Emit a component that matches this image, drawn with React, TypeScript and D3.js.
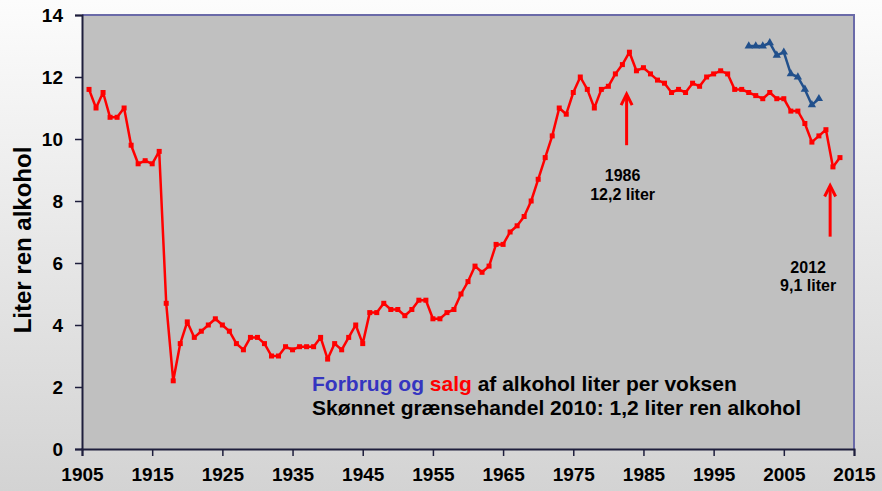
import { useEffect, useRef } from 'react';
import * as d3 from 'd3';

// Alkoholforbrug i Danmark, liter ren alkohol per voksen

const salgYears = d3.range(1906, 2014);
const salgValues = [
  11.6, 11.0, 11.5, 10.7, 10.7, 11.0, 9.8, 9.2, 9.3, 9.2, 9.6, 4.7, 2.2, 3.4, // 1906-1919
  4.1, 3.6, 3.8, 4.0, 4.2, 4.0, 3.8, 3.4, 3.2, 3.6, // 1920s
  3.6, 3.4, 3.0, 3.0, 3.3, 3.2, 3.3, 3.3, 3.3, 3.6, // 1930s
  2.9, 3.4, 3.2, 3.6, 4.0, 3.4, 4.4, 4.4, 4.7, 4.5, // 1940s
  4.5, 4.3, 4.5, 4.8, 4.8, 4.2, 4.2, 4.4, 4.5, 5.0, // 1950s
  5.4, 5.9, 5.7, 5.9, 6.6, 6.6, 7.0, 7.2, 7.5, 8.0, // 1960s
  8.7, 9.4, 10.1, 11.0, 10.8, 11.5, 12.0, 11.6, 11.0, 11.6, // 1970s
  11.7, 12.1, 12.4, 12.8, 12.2, 12.3, 12.1, 11.9, 11.8, 11.5, // 1980s
  11.6, 11.5, 11.8, 11.7, 12.0, 12.1, 12.2, 12.1, 11.6, 11.6, // 1990s
  11.5, 11.4, 11.3, 11.5, 11.3, 11.3, 10.9, 10.9, 10.5, 9.9, // 2000s
  10.1, 10.3, 9.1, 9.4 // 2010-2013
];

const forbrugYears = [2000, 2001, 2002, 2003, 2004, 2005, 2006, 2007, 2008, 2009, 2010];
const forbrugValues = [13.0, 13.0, 13.0, 13.1, 12.7, 12.8, 12.1, 12.0, 11.6, 11.1, 11.3];

const xTicks = [1905, 1915, 1925, 1935, 1945, 1955, 1965, 1975, 1985, 1995, 2005, 2015];
const yTicks = [0, 2, 4, 6, 8, 10, 12, 14];

// arrows: x year, tip value, tail value, label
const arrowYears = [1982.6, 2011.6];
const arrowTips = [11.45, 8.5];
const arrowTails = [9.8, 6.85];
const arrowLabels = [['1986', '12,2 liter'], ['2012', '9,1 liter']];
const arrowLabelShift = [-4, -22];

const FONT = '"Liberation Sans", Arial, Helvetica, sans-serif';

export default function App() {
  const ref = useRef<SVGSVGElement>(null);

  useEffect(() => {
    const svg = d3.select(ref.current);
    svg.selectAll('*').remove();

    const width = 882;
    const height = 491;
    const m = { left: 82, right: 854, top: 15, bottom: 449 };

    const x = d3.scaleLinear().domain([1905, 2015]).range([m.left, m.right]);
    const y = d3.scaleLinear().domain([0, 14]).range([m.bottom, m.top]);

    // background
    const defs = svg.append('defs');
    const bg = defs.append('linearGradient')
      .attr('id', 'bgGrad')
      .attr('x1', '0%').attr('x2', '0%')
      .attr('y1', '0%').attr('y2', '100%');
    bg.append('stop').attr('offset', '0%').attr('stop-color', '#fcfcfc');
    bg.append('stop').attr('offset', '100%').attr('stop-color', '#d3d3d3');

    svg.append('rect')
      .attr('width', width).attr('height', height)
      .attr('fill', 'url(#bgGrad)');

    // plot area
    svg.append('rect')
      .attr('x', m.left).attr('y', m.top)
      .attr('width', m.right - m.left).attr('height', m.bottom - m.top)
      .attr('fill', '#c0c0c0');

    // top + right border
    svg.append('path')
      .attr('d', `M${m.left},${m.top}H${m.right}V${m.bottom}`)
      .attr('fill', 'none')
      .attr('stroke', '#6a6aa8')
      .attr('stroke-width', 2);

    // axes
    const yAxis = d3.axisLeft(y).tickValues(yTicks).tickSize(7).tickPadding(12);
    const xAxis = d3.axisBottom(x).tickValues(xTicks).tickFormat(d3.format('d')).tickSize(7).tickPadding(12);

    const gy = svg.append('g').attr('transform', `translate(${m.left},0)`).call(yAxis);
    const gx = svg.append('g').attr('transform', `translate(0,${m.bottom})`).call(xAxis);

    [gx, gy].forEach(g => {
      g.select('.domain').attr('stroke', '#1e1e3c').attr('stroke-width', 2);
      g.selectAll('.tick line').attr('stroke', '#1e1e3c').attr('stroke-width', 1.5);
      g.selectAll('.tick text')
        .attr('fill', '#000')
        .style('font-family', FONT)
        .style('font-size', '19px')
        .style('font-weight', 'bold');
    });
    gy.selectAll('.tick text').attr('dy', '0.36em');
    gx.selectAll('.tick text').attr('dy', '0.71em');

    // y label
    svg.append('text')
      .attr('transform', `translate(31,${(m.top + m.bottom) / 2 + 8}) rotate(-90)`)
      .attr('text-anchor', 'middle')
      .style('font-family', FONT)
      .style('font-size', '24px')
      .style('font-weight', 'bold')
      .text('Liter ren alkohol');

    const line = d3.line<[number, number]>()
      .x(d => x(d[0]))
      .y(d => y(d[1]));

    // salg (red)
    const salg: [number, number][] = salgYears.map((yr, i) => [yr, salgValues[i]]);
    svg.append('path')
      .datum(salg)
      .attr('fill', 'none')
      .attr('stroke', '#ff0000')
      .attr('stroke-width', 2.5)
      .attr('stroke-linejoin', 'round')
      .attr('d', line);

    svg.append('g').selectAll('rect')
      .data(salg)
      .join('rect')
      .attr('x', d => x(d[0]) - 2.5)
      .attr('y', d => y(d[1]) - 2.5)
      .attr('width', 5)
      .attr('height', 5)
      .attr('fill', '#ff0000');

    // forbrug (blue)
    const forbrug: [number, number][] = forbrugYears.map((yr, i) => [yr, forbrugValues[i]]);
    svg.append('path')
      .datum(forbrug)
      .attr('fill', 'none')
      .attr('stroke', '#21508c')
      .attr('stroke-width', 2.5)
      .attr('stroke-linejoin', 'round')
      .attr('d', line);

    svg.append('g').selectAll('path')
      .data(forbrug)
      .join('path')
      .attr('transform', d => `translate(${x(d[0])},${y(d[1])})`)
      .attr('d', d3.symbol(d3.symbolTriangle, 30))
      .attr('fill', '#21508c');

    // arrows + labels
    arrowYears.forEach((yr, i) => {
      const ax = x(yr);
      const tip = y(arrowTips[i]);
      const tail = y(arrowTails[i]);
      const g = svg.append('g').attr('stroke', '#ff0000').attr('stroke-width', 3).attr('fill', 'none');
      g.append('line').attr('x1', ax).attr('x2', ax).attr('y1', tail).attr('y2', tip + 1);
      g.append('path')
        .attr('d', `M${ax - 5.5},${tip + 11}L${ax},${tip}L${ax + 5.5},${tip + 11}`)
        .attr('stroke-linejoin', 'miter');

      const t = svg.append('text')
        .attr('x', ax + arrowLabelShift[i])
        .attr('y', tail + 36)
        .attr('text-anchor', 'middle')
        .style('font-family', FONT)
        .style('font-size', '16px')
        .style('font-weight', 'bold');
      arrowLabels[i].forEach((s, j) => {
        t.append('tspan')
          .attr('x', ax + arrowLabelShift[i])
          .attr('dy', j === 0 ? 0 : 18.5)
          .text(s);
      });
    });

    // legend text
    const note = svg.append('text')
      .attr('x', 312)
      .attr('y', 391)
      .style('font-family', FONT)
      .style('font-size', '21px')
      .style('font-weight', 'bold');
    note.append('tspan').attr('fill', '#3535c0').text('Forbrug og ');
    note.append('tspan').attr('fill', '#ff0000').text('salg');
    note.append('tspan').attr('fill', '#000').text(' af alkohol liter per voksen');

    svg.append('text')
      .attr('x', 312)
      .attr('y', 415)
      .style('font-family', FONT)
      .style('font-size', '21px')
      .style('font-weight', 'bold')
      .text('Skønnet grænsehandel 2010: 1,2 liter ren alkohol');
  }, []);

  return (
    <svg
      ref={ref}
      width={882}
      height={491}
      style={{ position: 'absolute', left: 0, top: 0, display: 'block' }}
    ></svg>
  );
}
